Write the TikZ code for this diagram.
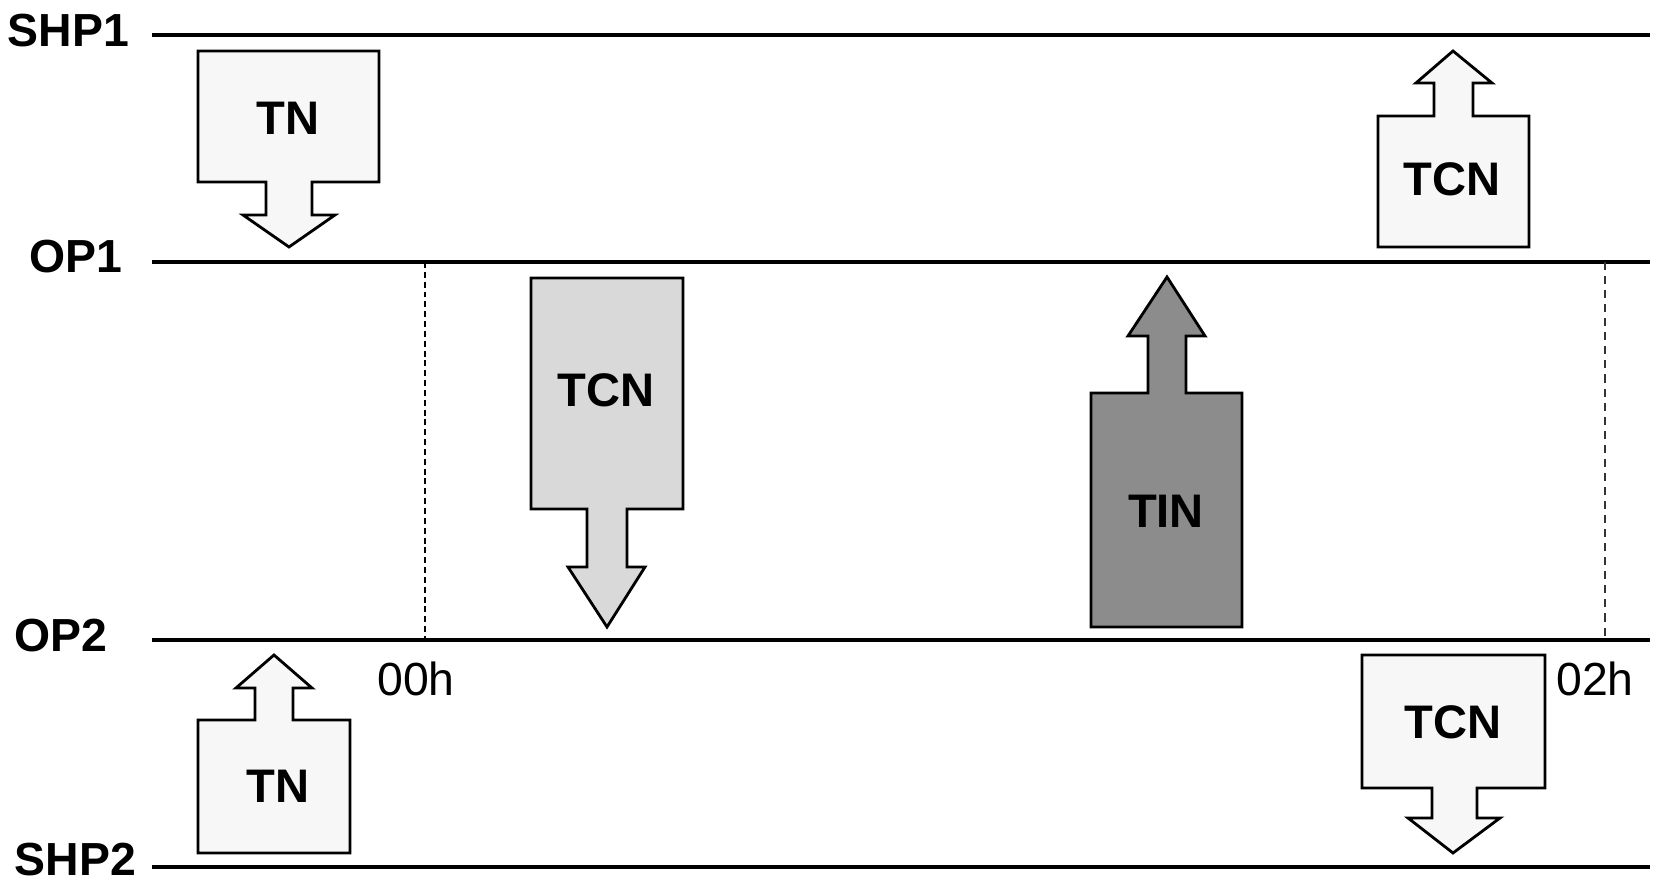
\documentclass[tikz,border=0pt]{standalone}
\usepackage{fontspec}
\setmainfont{Liberation Sans}
\definecolor{vaalea}{rgb}{0.97, 0.97, 0.97}
\definecolor{harmaa}{rgb}{0.85, 0.85, 0.85}
\definecolor{tumma}{rgb}{0.55, 0.55, 0.55}
\tikzset{
	taso/.style={line width=0.9pt},
	tasonimi/.style={anchor=base west, inner sep=0pt, font=\fontsize{13.2}{15}\selectfont\bfseries},
	laatikko/.style={draw, line width=0.8pt, line join=miter},
	nimi/.style={inner sep=0pt, font=\fontsize{13.4}{15}\selectfont\bfseries},
	aika/.style={inner sep=0pt, font=\fontsize{13.2}{15}\selectfont}
}
\begin{document}
\begin{tikzpicture}
				\useasboundingbox (0,0) rectangle (16.54,8.81);
				\draw[taso] (1.52,8.46) -- (16.50,8.46);
				\draw[taso] (1.52,6.19) -- (16.50,6.19);
				\draw[taso] (1.52,2.41) -- (16.50,2.41);
				\draw[taso] (1.52,0.14) -- (16.50,0.14);
				\draw[line width=0.7pt, dash pattern=on 1.7pt off 1.1pt] (4.25,6.19) -- (4.25,2.41);
				\draw[line width=0.4pt, dash pattern=on 2.3pt off 1.7pt, black!80] (16.05,6.19) -- (16.05,2.41);
				\draw[laatikko, fill=vaalea] (1.98,8.30) -- (3.79,8.30) -- (3.79,6.99) -- (3.12,6.99) -- (3.12,6.66) -- (3.35,6.66) -- (2.89,6.34) -- (2.43,6.66) -- (2.66,6.66) -- (2.66,6.99) -- (1.98,6.99) -- cycle;
				\draw[laatikko, fill=vaalea] (13.78,6.34) -- (15.29,6.34) -- (15.29,7.65) -- (14.73,7.65) -- (14.73,7.98) -- (14.92,7.98) -- (14.53,8.30) -- (14.16,7.98) -- (14.34,7.98) -- (14.34,7.65) -- (13.78,7.65) -- cycle;
				\draw[laatikko, fill=harmaa] (5.31,6.03) -- (6.83,6.03) -- (6.83,3.72) -- (6.27,3.72) -- (6.27,3.14) -- (6.45,3.14) -- (6.07,2.54) -- (5.68,3.14) -- (5.87,3.14) -- (5.87,3.72) -- (5.31,3.72) -- cycle;
				\draw[laatikko, fill=tumma] (10.91,2.54) -- (12.42,2.54) -- (12.42,4.88) -- (11.86,4.88) -- (11.86,5.45) -- (12.05,5.45) -- (11.67,6.04) -- (11.28,5.45) -- (11.48,5.45) -- (11.48,4.88) -- (10.91,4.88) -- cycle;
				\draw[laatikko, fill=vaalea] (1.98,0.28) -- (3.50,0.28) -- (3.50,1.61) -- (2.93,1.61) -- (2.93,1.93) -- (3.12,1.93) -- (2.74,2.26) -- (2.36,1.93) -- (2.55,1.93) -- (2.55,1.61) -- (1.98,1.61) -- cycle;
				\draw[laatikko, fill=vaalea] (13.62,2.26) -- (15.45,2.26) -- (15.45,0.93) -- (14.77,0.93) -- (14.77,0.63) -- (15.00,0.63) -- (14.53,0.28) -- (14.08,0.63) -- (14.32,0.63) -- (14.32,0.93) -- (13.62,0.93) -- cycle;
				\node[tasonimi] (shp1) at (0.07,8.34) {SHP1};
				\node[tasonimi] (op1) at (0.29,6.08) {OP1};
				\node[tasonimi] (op2) at (0.14,2.29) {OP2};
				\node[tasonimi] (shp2) at (0.14,0.05) {SHP2};
				\node[nimi] (tn1) at (2.88,7.63) {TN};
				\node[nimi] (tcn1) at (14.52,7.02) {TCN};
				\node[nimi] (tcn2) at (6.06,4.91) {TCN};
				\node[nimi] (tin) at (11.66,3.70) {TIN};
				\node[nimi] (tn2) at (2.78,0.95) {TN};
				\node[nimi] (tcn3) at (14.53,1.59) {TCN};
				\node[aika] (h00) at (4.16,2.02) {00h};
				\node[aika] (h02) at (15.95,2.02) {02h};
			\end{tikzpicture}
\end{document}
